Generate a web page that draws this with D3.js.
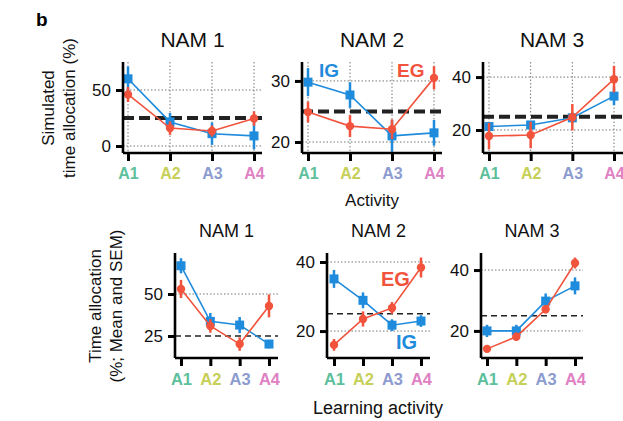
<!DOCTYPE html>
<html lang="en">
  <head>
    <meta charset="UTF-8" />
    <title>NAM time allocation</title>
    <script src="https://cdn.jsdelivr.net/npm/d3@7/dist/d3.min.js"></script>
    <style>
      body { margin: 0; background: #fff; }
      text { font-family: "Liberation Sans", Arial, sans-serif; }
    </style>
  </head>
  <body>
    <svg width="623" height="421"></svg>
  </body>
  <script>
    // data
    var activities = ["A1", "A2", "A3", "A4"];
    var actColors = ["#5dbf9b", "#c6cf57", "#8d9ccf", "#e081c3"];
    var panelNames = ["NAM 1", "NAM 2", "NAM 3"];
    var chance = 25;

    // simulated (top row), mean and error per NAM
    var simIG = [[60, 21.5, 11, 9], [29.8, 27.7, 21.0, 21.5], [21.3, 21.9, 24.6, 32.8]];
    var simIGerr = [[11, 8, 10, 12], [2.3, 2.1, 2.6, 2.1], [1.5, 1.5, 2, 3.4]];
    var simEG = [[46, 16, 13.4, 24.5], [24.9, 22.6, 22.1, 30.5], [17.7, 18.1, 24.8, 39.2]];
    var simEGerr = [[6.7, 6, 5, 6.5], [1.7, 1.8, 1.6, 1.9], [5, 5, 5, 5]];
    var simTicks = [[0, 50], [20, 30], [20, 40]];
    var simDomains = [[-6.25, 75], [18.2, 33.1], [11.3, 45.7]];

    // measured (bottom row), mean and SEM per NAM
    var empIG = [[66.8, 33.7, 31.5, 20.2], [35.1, 28.9, 21.7, 22.9], [20, 20, 29.8, 34.8]];
    var empIGerr = [[4.5, 5, 4.8, 2.5], [2.6, 2.3, 1.7, 1.7], [2, 2, 2.5, 2.8]];
    var empEG = [[53, 31, 20.2, 42.9], [16, 23.5, 26.7, 38.4], [14.1, 18.1, 27.1, 42.3]];
    var empEGerr = [[5.4, 4, 4, 6.8], [1.7, 2.2, 1.7, 2.9], [1, 1.3, 1.3, 1.8]];
    var empTicks = [[25, 50], [20, 40], [20, 40]];
    var empDomains = [[11.9, 74.4], [12.2, 42.6], [11.1, 45.6]];

    var blue = "#1f8bdc";
    var red = "#f1533c";

    var svg = d3.select("svg");

    // layout of each panel (pixels)
    var topLayout = [
      { left: 123, right: 262, x1: 128, x4: 254, top: 62, bottom: 153 },
      { left: 302, right: 442, x1: 308, x4: 434, top: 62, bottom: 153 },
      { left: 483, right: 623, x1: 489, x4: 614, top: 62, bottom: 153 },
    ];
    var botLayout = [
      { left: 175, right: 278, x1: 181, x4: 269, top: 253, bottom: 358 },
      { left: 327, right: 430, x1: 334, x4: 421, top: 253, bottom: 358 },
      { left: 481, right: 583, x1: 487, x4: 575, top: 253, bottom: 358 },
    ];

    function drawPanel(L, i, opt) {
      var g = svg.append("g");
      var x = d3.scalePoint().domain(activities).range([L.x1, L.x4]);
      var y = d3.scaleLinear().domain(opt.domain).range([L.bottom, L.top]);

      // dotted grid
      var hgrid = opt.ticks.filter((t) => opt.vgrid || t != chance);
      g.selectAll(".hg")
        .data(hgrid)
        .enter()
        .append("line")
        .attr("x1", L.left)
        .attr("x2", L.right)
        .attr("y1", (d) => y(d))
        .attr("y2", (d) => y(d))
        .attr("stroke", "#777")
        .attr("stroke-width", 1)
        .attr("stroke-dasharray", "1.5,2");
      if (opt.vgrid) {
        g.selectAll(".vg")
          .data(activities)
          .enter()
          .append("line")
          .attr("x1", (d) => x(d))
          .attr("x2", (d) => x(d))
          .attr("y1", L.top)
          .attr("y2", L.bottom)
          .attr("stroke", "#777")
          .attr("stroke-width", 1)
          .attr("stroke-dasharray", "1.5,2");
      }

      // chance level
      g.append("line")
        .attr("x1", L.left)
        .attr("x2", L.right)
        .attr("y1", y(chance))
        .attr("y2", y(chance))
        .attr("stroke", "#222")
        .attr("stroke-width", opt.thick ? 4 : 1.6)
        .attr("stroke-dasharray", opt.thick ? "11,5" : "6,4");

      // series
      var series = [
        { m: opt.ig, e: opt.igErr, c: blue, sq: true },
        { m: opt.eg, e: opt.egErr, c: red, sq: false },
      ];
      series.forEach(function (s) {
        var pts = activities.map((a, k) => ({ a: a, v: s.m[k], e: s.e[k] }));
        g.append("path")
          .datum(pts)
          .attr("fill", "none")
          .attr("stroke", s.c)
          .attr("stroke-width", 1.6)
          .attr("d", d3.line().x((d) => x(d.a)).y((d) => y(d.v)));
        g.selectAll(null)
          .data(pts)
          .enter()
          .append("line")
          .attr("x1", (d) => x(d.a))
          .attr("x2", (d) => x(d.a))
          .attr("y1", (d) => y(d.v - d.e))
          .attr("y2", (d) => y(d.v + d.e))
          .attr("stroke", s.c)
          .attr("stroke-width", 2.5);
        if (s.sq) {
          g.selectAll(null)
            .data(pts)
            .enter()
            .append("rect")
            .attr("x", (d) => x(d.a) - 4.5)
            .attr("y", (d) => y(d.v) - 4.5)
            .attr("width", 9)
            .attr("height", 9)
            .attr("fill", s.c);
        } else {
          g.selectAll(null)
            .data(pts)
            .enter()
            .append("circle")
            .attr("cx", (d) => x(d.a))
            .attr("cy", (d) => y(d.v))
            .attr("r", 4.2)
            .attr("fill", s.c);
        }
      });

      // axes
      var xAxis = d3.axisBottom(x).tickSize(8).tickPadding(7).tickSizeOuter(0);
      var yAxis = d3.axisLeft(y).tickValues(opt.ticks).tickSize(7).tickPadding(5).tickSizeOuter(0);
      var gx = g.append("g").attr("transform", "translate(0," + L.bottom + ")").call(xAxis);
      gx.select(".domain").attr("d", "M" + L.left + ",0H" + L.right);
      var gy = g.append("g").attr("transform", "translate(" + L.left + ",0)").call(yAxis);
      gy.select(".domain").attr("d", "M0," + L.top + "V" + L.bottom);

      [gx, gy].forEach(function (ax) {
        ax.select(".domain").attr("stroke", "#000").attr("stroke-width", 2.6);
        ax.selectAll(".tick line").attr("stroke", "#000").attr("stroke-width", 3);
      });
      gx.selectAll(".tick text")
        .attr("font-size", opt.xFont)
        .attr("font-weight", "bold")
        .attr("fill", (d, k) => actColors[k]);
      gy.selectAll(".tick text").attr("font-size", 17).attr("fill", "#111");

      // title
      g.append("text")
        .attr("x", (L.left + L.right) / 2 + opt.titleShift)
        .attr("y", opt.titleY)
        .attr("text-anchor", "middle")
        .attr("font-size", opt.titleFont)
        .attr("fill", "#111")
        .text(panelNames[i]);
      return { x: x, y: y, g: g };
    }

    var topPanels = topLayout.map((L, i) =>
      drawPanel(L, i, {
        domain: simDomains[i], ticks: simTicks[i], ig: simIG[i], igErr: simIGerr[i],
        eg: simEG[i], egErr: simEGerr[i], vgrid: true, thick: true,
        xFont: 16, titleFont: 21, titleY: 47, titleShift: [0, 0, -1][i],
      })
    );
    var botPanels = botLayout.map((L, i) =>
      drawPanel(L, i, {
        domain: empDomains[i], ticks: empTicks[i], ig: empIG[i], igErr: empIGerr[i],
        eg: empEG[i], egErr: empEGerr[i], vgrid: false, thick: false,
        xFont: 16.5, titleFont: 18, titleY: 237, titleShift: 0,
      })
    );

    // series labels
    var lab = [
      { t: "IG", x: 319, y: 77, c: blue, s: 19 },
      { t: "EG", x: 397, y: 77, c: red, s: 19 },
      { t: "EG", x: 381, y: 286, c: red, s: 20 },
      { t: "IG", x: 396, y: 349, c: blue, s: 20 },
    ];
    svg.selectAll(".lab")
      .data(lab)
      .enter()
      .append("text")
      .attr("x", (d) => d.x)
      .attr("y", (d) => d.y)
      .attr("fill", (d) => d.c)
      .attr("font-size", (d) => d.s)
      .attr("font-weight", "bold")
      .text((d) => d.t);

    // axis titles
    svg.append("text").attr("x", 36).attr("y", 26).attr("font-size", 19).attr("font-weight", "bold").text("b");

    var yl1 = svg.append("text")
      .attr("transform", "translate(54,108) rotate(-90)")
      .attr("text-anchor", "middle")
      .attr("font-size", 17)
      .attr("fill", "#111");
    yl1.append("tspan").attr("x", 0).attr("y", 0).text("Simulated");
    yl1.append("tspan").attr("x", 0).attr("y", 21).text("time allocation (%)");

    var yl2 = svg.append("text")
      .attr("transform", "translate(101,306) rotate(-90)")
      .attr("text-anchor", "middle")
      .attr("font-size", 17)
      .attr("fill", "#111");
    yl2.append("tspan").attr("x", 0).attr("y", 0).text("Time allocation");
    yl2.append("tspan").attr("x", 0).attr("y", 21).text("(%; Mean and SEM)");

    svg.append("text").attr("x", 372).attr("y", 206).attr("text-anchor", "middle")
      .attr("font-size", 17).attr("fill", "#111").text("Activity");
    svg.append("text").attr("x", 378).attr("y", 414).attr("text-anchor", "middle")
      .attr("font-size", 18).attr("fill", "#111").text("Learning activity");
  </script>
</html>
